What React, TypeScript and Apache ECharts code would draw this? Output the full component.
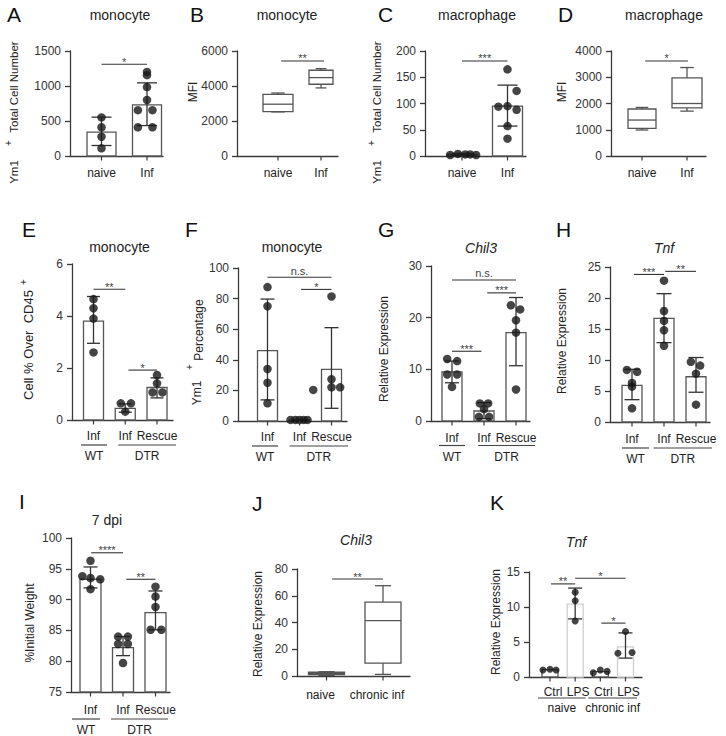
import React, { useEffect, useRef } from 'react';
import * as echarts from 'echarts';

const FONT = '"Liberation Sans", Arial, Helvetica, sans-serif';
const AXIS = '#3a3a3a';
const EDGE = '#555555';
const DOT = '#161616';

// ---------- A: monocyte Ym1+ total cell number ----------
const aCats = ['naive', 'Inf'];
const aMeans = [340, 730];
const aErr = [[0, 150, 555], [1, 435, 1045]];
const aDots = [[0, 551], [0, 410], [0, 275], [0, 109], [1, 1201], [1, 1155], [1, 985], [1, 800], [0.8, 655], [1.12, 655], [0.8, 410], [1.12, 410]];
const aSig = [[0, 1, 1310]];
const aSigText = ['*'];

// ---------- B: monocyte MFI ----------
const bCats = ['naive', 'Inf'];
const bBoxes = [[0, 2520, 2540, 2960, 3520, 3600], [1, 3890, 4100, 4480, 4900, 4990]];
const bSig = [[0.07, 1.07, 5430]];
const bSigText = ['**'];

// ---------- C: macrophage Ym1+ total cell number ----------
const cCats = ['naive', 'Inf'];
const cMeans = [3, 95];
const cErr = [[0, 1, 5], [1, 57, 135]];
const cDots = [[-0.26, 2], [-0.09, 4], [0.07, 3], [0.18, 3], [0.31, 2], [1, 165], [1.2, 124], [0.8, 94], [1, 95], [1.2, 88], [1, 57], [1, 33]];
const cSig = [[0, 1, 181]];
const cSigText = ['***'];

// ---------- D: macrophage MFI ----------
const dCats = ['naive', 'Inf'];
const dBoxes = [[0, 990, 1050, 1370, 1790, 1850], [1, 1710, 1835, 2000, 2975, 3370]];
const dSig = [[0.07, 1.02, 3620]];
const dSigText = ['*'];

// ---------- E: monocyte cell % over CD45+ ----------
const eCats = ['Inf', 'Inf', 'Rescue'];
const eGroups = [[0, 0], [1, 2]];
const eGroupText = ['WT', 'DTR'];
const eMeans = [3.8, 0.45, 1.25];
const eErr = [[0, 2.95, 4.75], [1, 0.3, 0.62], [2, 0.85, 1.62]];
const eDots = [[0, 4.65], [0, 4.3], [0, 3.9], [0, 2.6], [0.86, 0.64], [1.18, 0.64], [1, 0.32], [2, 1.73], [2, 1.41], [1.86, 1.06], [2.17, 1.06]];
const eSig = [[0, 1, 5.03], [1.1, 2, 1.92]];
const eSigText = ['**', '*'];

// ---------- F: monocyte Ym1+ percentage ----------
const fCats = ['Inf', 'Inf', 'Rescue'];
const fGroups = [[0, 0], [1, 2]];
const fGroupText = ['WT', 'DTR'];
const fMeans = [46, 0.7, 33.8];
const fErr = [[0, 13.8, 79.7], [2, 8.3, 61]];
const fDots = [[0, 87.5], [0, 75], [0, 34], [0, 25], [0, 11.6], [0.72, 0.7], [0.87, 0.7], [1, 0.7], [1.13, 0.7], [1.25, 0.7], [2, 81.4], [2, 27.3], [1.43, 20.3], [2, 22], [2.27, 22]];
const fSig = [[0, 2, 94], [1.05, 2, 86]];
const fSigText = ['n.s.', '*'];

// ---------- G: Chil3 ----------
const gCats = ['Inf', 'Inf', 'Rescue'];
const gGroups = [[0, 0], [1, 2]];
const gGroupText = ['WT', 'DTR'];
const gMeans = [9.5, 1.94, 17.1];
const gErr = [[0, 7.4, 11.6], [1, 0.45, 3.55], [2, 10.7, 23.9]];
const gDots = [[-0.15, 12], [0.16, 11.6], [-0.15, 9], [0.16, 9], [0, 6.6], [0.87, 3.4], [1.13, 3.4], [1, 2.3], [0.84, 0.8], [1.16, 0.8], [1.84, 22.4], [2.13, 21.6], [2, 19.5], [2, 17.1], [2, 6.1]];
const gSig = [[0, 2, 27.3], [1.1, 2, 24.8], [0, 0.92, 13.5]];
const gSigText = ['n.s.', '***', '***'];

// ---------- H: Tnf ----------
const hCats = ['Inf', 'Inf', 'Rescue'];
const hGroups = [[0, 0], [1, 2]];
const hGroupText = ['WT', 'DTR'];
const hMeans = [5.9, 16.7, 7.3];
const hErr = [[0, 3.6, 8.5], [1, 12.8, 20.7], [2, 4.8, 10.4]];
const hDots = [[-0.16, 8.4], [0.16, 8.1], [0, 6.3], [0, 5.7], [0, 2.2], [1, 22.8], [1, 17.9], [1, 16.3], [1, 14.8], [1, 12.3], [1.84, 9.7], [2.13, 9.1], [2, 7.8], [2, 2.8]];
const hSig = [[0.06, 1, 23.8], [1.04, 2, 24.3]];
const hSigText = ['***', '**'];

// ---------- I: 7 dpi weight ----------
const iCats = ['Inf', 'Inf', 'Rescue'];
const iGroups = [[0, 0], [1, 2]];
const iGroupText = ['WT', 'DTR'];
const iMeans = [93.3, 82.2, 87.9];
const iErr = [[0, 91.9, 95.3], [1, 80.9, 84], [2, 85.1, 91.4]];
const iDots = [[0, 96.3], [-0.25, 93.8], [0, 93.5], [0.3, 93.3], [0, 91.7], [0.85, 84], [1.15, 84], [0.85, 82.8], [1.15, 82.8], [1, 79.7], [2, 92.1], [2, 90.5], [2, 88.8], [1.85, 85.1], [2.18, 85.1]];
const iSig = [[0.02, 1, 97.6], [1.1, 2, 93.3]];
const iSigText = ['****', '**'];

// ---------- J: Chil3 chronic ----------
const jCats = ['naive', 'chronic inf'];
const jBoxes = [[0, 0.5, 1, 2, 2.8, 3.2], [1, 1.2, 9.7, 41.4, 55.3, 67.5]];
const jSig = [[0.1, 1, 72.5]];
const jSigText = ['**'];

// ---------- K: Tnf LPS ----------
const kCats = ['Ctrl', 'LPS', 'Ctrl', 'LPS'];
const kGroups = [[0, 1], [2, 3]];
const kGroupText = ['naive', 'chronic inf'];
const kMeans = [1.05, 10.4, 0.78, 4.3];
const kErr = [[1, 8.3, 12.7], [3, 2.7, 6.3]];
const kDots = [[-0.28, 1.0], [0, 1.1], [0.24, 1.0], [1, 12.1], [1, 10.9], [1, 8.0], [1.72, 0.6], [2, 1.0], [2.27, 0.8], [3, 6.5], [2.7, 3.4], [3.26, 3.5]];
const kSig = [[0.04, 1, 13.3], [1, 3, 14.1], [2.04, 3, 7.7]];
const kSigText = ['**', '*', '*'];

// ---------- layout ----------
const panels: any[] = [
  { cats: aCats, means: aMeans, err: aErr, dots: aDots, sig: aSig, sigText: aSigText, yMin: 0, yMax: 1500, yStep: 500,
    axisL: 70, axisR: 163, c0: 101.5, c1: 147, top: 51, bottom: 156, barW: 29, capW: 20, labelDy: 17 },
  { cats: bCats, boxes: bBoxes, boxW: [30, 24], sig: bSig, sigText: bSigText, yMin: 0, yMax: 6000, yStep: 2000,
    axisL: 237, axisR: 338, c0: 278, c1: 321, top: 51, bottom: 156, labelDy: 17 },
  { cats: cCats, means: cMeans, err: cErr, dots: cDots, sig: cSig, sigText: cSigText, yMin: 0, yMax: 200, yStep: 50,
    axisL: 425, axisR: 526, c0: 462, c1: 507.5, top: 51, bottom: 156, barW: 30, capW: 20, labelDy: 17 },
  { cats: dCats, boxes: dBoxes, boxW: [28, 30], sig: dSig, sigText: dSigText, yMin: 0, yMax: 4000, yStep: 1000,
    axisL: 611, axisR: 706, c0: 642, c1: 687, top: 51, bottom: 156, labelDy: 17 },
  { cats: eCats, groups: eGroups, groupText: eGroupText, groupPad: [[12.5, 13.5], [7, 19]], means: eMeans, err: eErr, dots: eDots, sig: eSig, sigText: eSigText,
    yMin: 0, yMax: 6, yStep: 2, axisL: 72, axisR: 173, c0: 93.5, c1: 157, top: 264, bottom: 420, barW: 20, capW: 13, labelDy: 15.5, lineDy: 25, groupDy: 35.5 },
  { cats: fCats, groups: fGroups, groupText: fGroupText, groupPad: [[15.5, 10.5], [10, 16.5]], means: fMeans, err: fErr, dots: fDots, sig: fSig, sigText: fSigText,
    yMin: 0, yMax: 100, yStep: 20, axisL: 238, axisR: 347, c0: 267.5, c1: 331.5, top: 268, bottom: 421, barW: 20, capW: 14, labelDy: 15.7, lineDy: 25, groupDy: 35.7 },
  { cats: gCats, groups: gGroups, groupText: gGroupText, groupPad: [[13, 13], [6, 19]], means: gMeans, err: gErr, dots: gDots, sig: gSig, sigText: gSigText,
    yMin: 0, yMax: 30, yStep: 10, axisL: 431, axisR: 530, c0: 452, c1: 516, top: 266, bottom: 421, barW: 20, capW: 14, labelDy: 17, lineDy: 24.5, groupDy: 36 },
  { cats: hCats, groups: hGroups, groupText: hGroupText, groupPad: [[10, 17], [10.5, 16]], means: hMeans, err: hErr, dots: hDots, sig: hSig, sigText: hSigText,
    yMin: 0, yMax: 25, yStep: 5, axisL: 610, axisR: 710, c0: 632, c1: 696, top: 267, bottom: 422, barW: 20, capW: 15, labelDy: 17, lineDy: 26, groupDy: 37 },
  { cats: iCats, groups: iGroups, groupText: iGroupText, groupPad: [[18.5, 9.5], [12, 12.5]], means: iMeans, err: iErr, dots: iDots, sig: iSig, sigText: iSigText,
    yMin: 75, yMax: 100, yStep: 5, axisL: 71, axisR: 170, c0: 90.5, c1: 155.5, top: 538, bottom: 692, barW: 21, capW: 14, labelDy: 18, lineDy: 27, groupDy: 38 },
  { cats: jCats, boxes: jBoxes, boxW: [36, 36], sig: jSig, sigText: jSigText, yMin: 0, yMax: 80, yStep: 20,
    axisL: 297, axisR: 410, c0: 326.5, c1: 383, top: 569, bottom: 676, labelDy: 19, labelDx: -6 },
  { cats: kCats, groups: kGroups, groupText: kGroupText, groupPad: [[12, 10.5], [12, 11.5]], means: kMeans, barEdge: [EDGE, '#cfcfcf', EDGE, '#cfcfcf'], err: kErr, dots: kDots, sig: kSig, sigText: kSigText,
    yMin: 0, yMax: 15, yStep: 5, axisL: 529, axisR: 642, c0: 550, c1: 625.5, top: 572, bottom: 677, barW: 16, capW: 14, dotSize: 7, labelDy: 15, labelDx: 3, lineDy: 21, groupDy: 31 },
];

const letters: [string, number, number][] = [
  ['A', 7, 14], ['B', 190, 14], ['C', 378, 14], ['D', 558, 14],
  ['E', 22, 229], ['F', 185, 229], ['G', 378, 229], ['H', 556, 229],
  ['I', 19, 501], ['J', 252, 503], ['K', 490, 502],
];
const titles: [string, number, number, boolean][] = [
  ['monocyte', 120, 15, false], ['monocyte', 287, 15, false], ['macrophage', 477, 15, false], ['macrophage', 664, 15, false],
  ['monocyte', 119.5, 247, false], ['monocyte', 292, 247, false], ['Chil3', 481, 248, true], ['Tnf', 664, 248, true],
  ['7 dpi', 107, 520, false], ['Chil3', 356, 540, true], ['Tnf', 576, 542, true],
];
// rotated axis names: [text, centerX, centerY, fontSize]
const yNames: [string, number, number, number][] = [
  ['Total Cell Number', 14, 87, 11.5], ['Ym1', 14, 172, 11.5], ['+', 8, 143, 10],
  ['MFI', 193, 92, 12],
  ['Total Cell Number', 377, 87, 11.5], ['Ym1', 377, 172, 11.5], ['+', 371, 143, 10],
  ['MFI', 562, 92, 12],
  ['Cell % Over  CD45', 28, 345, 13], ['+', 23, 282, 10],
  ['Percentage', 199, 330, 12], ['Ym1', 197, 393, 12], ['+', 189, 367, 10],
  ['Relative Expression', 384, 349, 12],
  ['Relative Expression', 562, 341, 12],
  ['%Initial Weight', 30, 623, 12],
  ['Relative Expression', 258, 624, 12],
  ['Relative Expression', 496, 622, 12],
];

function buildOption() {
  const grid: any[] = [];
  const xAxis: any[] = [];
  const yAxis: any[] = [];
  const series: any[] = [];
  const graphic: any[] = [];
  const axisLine = { color: AXIS, width: 1.3 };

  panels.forEach((p, i) => {
    const n = p.cats.length;
    const unit = (p.c1 - p.c0) / (n - 1);
    const xMin = (p.axisL - p.c0) / unit;
    const xMax = (p.axisR - p.c0) / unit;
    grid.push({ left: p.axisL, top: p.top, width: p.axisR - p.axisL, height: p.bottom - p.top, containLabel: false, outerBoundsMode: 'none' });
    xAxis.push({
      gridIndex: i, type: 'value', min: xMin, max: xMax,
      axisLine: { show: true, onZero: false, lineStyle: axisLine },
      axisTick: { show: false }, axisLabel: { show: false }, splitLine: { show: false },
    });
    yAxis.push({
      gridIndex: i, type: 'value', min: p.yMin, max: p.yMax, interval: p.yStep,
      axisLine: { show: true, onZero: false, lineStyle: axisLine },
      axisTick: { show: true, length: 5, lineStyle: axisLine },
      axisLabel: { fontSize: 12, color: '#333', margin: 9, fontFamily: FONT, formatter: (v: number) => String(v) },
      splitLine: { show: false },
    });
    const common = { xAxisIndex: i, yAxisIndex: i, clip: false, silent: true };

    if (p.means) {
      const bw = p.barW;
      series.push({
        ...common, type: 'custom', z: 2,
        data: p.means.map((m: number, k: number) => [k, m]),
        encode: { x: 0, y: 1 },
        renderItem: (params: any, api: any) => {
          const k = api.value(0);
          const top = api.coord([k, api.value(1)]);
          const base = api.coord([k, p.yMin]);
          const stroke = p.barEdge ? p.barEdge[params.dataIndex] : EDGE;
          return { type: 'rect', shape: { x: top[0] - bw / 2, y: top[1], width: bw, height: base[1] - top[1] },
            style: { fill: '#ffffff', stroke, lineWidth: 1.3 } };
        },
      });
    }
    if (p.err) {
      const cw = p.capW / 2;
      series.push({
        ...common, type: 'custom', z: 3,
        data: p.err,
        encode: { x: 0, y: [1, 2] },
        renderItem: (params: any, api: any) => {
          const k = api.value(0);
          const lo = api.coord([k, api.value(1)]);
          const hi = api.coord([k, api.value(2)]);
          const st = { stroke: '#333', lineWidth: 1.3 };
          return { type: 'group', children: [
            { type: 'line', shape: { x1: lo[0], y1: lo[1], x2: hi[0], y2: hi[1] }, style: st },
            { type: 'line', shape: { x1: lo[0] - cw, y1: lo[1], x2: lo[0] + cw, y2: lo[1] }, style: st },
            { type: 'line', shape: { x1: hi[0] - cw, y1: hi[1], x2: hi[0] + cw, y2: hi[1] }, style: st },
          ] };
        },
      });
    }
    if (p.dots) {
      series.push({
        ...common, type: 'scatter', z: 4,
        data: p.dots, symbol: 'circle', symbolSize: p.dotSize || 8.5,
        itemStyle: { color: DOT },
      });
    }
    if (p.boxes) {
      series.push({
        ...common, type: 'custom', z: 2,
        data: p.boxes,
        encode: { x: 0, y: [1, 2, 3, 4, 5] },
        renderItem: (params: any, api: any) => {
          const k = api.value(0);
          const w = p.boxW[params.dataIndex];
          const mn = api.coord([k, api.value(1)]);
          const q1 = api.coord([k, api.value(2)]);
          const md = api.coord([k, api.value(3)]);
          const q3 = api.coord([k, api.value(4)]);
          const mx = api.coord([k, api.value(5)]);
          const cx = mn[0];
          const st = { stroke: EDGE, lineWidth: 1.3 };
          const cap = w * 0.45;
          return { type: 'group', children: [
            { type: 'line', shape: { x1: cx, y1: mx[1], x2: cx, y2: q3[1] }, style: st },
            { type: 'line', shape: { x1: cx, y1: q1[1], x2: cx, y2: mn[1] }, style: st },
            { type: 'line', shape: { x1: cx - cap / 2, y1: mx[1], x2: cx + cap / 2, y2: mx[1] }, style: st },
            { type: 'line', shape: { x1: cx - cap / 2, y1: mn[1], x2: cx + cap / 2, y2: mn[1] }, style: st },
            { type: 'rect', shape: { x: cx - w / 2, y: q3[1], width: w, height: q1[1] - q3[1] }, style: { fill: '#fff', stroke: EDGE, lineWidth: 1.3 } },
            { type: 'line', shape: { x1: cx - w / 2, y1: md[1], x2: cx + w / 2, y2: md[1] }, style: st },
          ] };
        },
      });
    }
    // significance brackets
    series.push({
      ...common, type: 'custom', z: 5,
      data: p.sig,
      encode: { x: [0, 1], y: 2 },
      renderItem: (params: any, api: any) => {
        const a = api.coord([api.value(0), api.value(2)]);
        const b = api.coord([api.value(1), api.value(2)]);
        const txt = p.sigText[params.dataIndex];
        const isNs = txt === 'n.s.';
        return { type: 'group', children: [
          { type: 'line', shape: { x1: a[0], y1: a[1], x2: b[0], y2: b[1] }, style: { stroke: '#333', lineWidth: 1.1 } },
          { type: 'text', x: (a[0] + b[0]) / 2, y: a[1] + (isNs ? -1 : 3),
            style: { text: txt, align: 'center', verticalAlign: 'bottom', fill: '#444', fontSize: 11, fontFamily: FONT } },
        ] };
      },
    });
    // category ticks and labels
    series.push({
      ...common, type: 'custom', z: 5,
      data: p.cats.map((_: string, k: number) => [k]),
      encode: { x: 0 },
      renderItem: (params: any, api: any) => {
        const k = api.value(0);
        const c = api.coord([k, p.yMin]);
        return { type: 'group', children: [
          { type: 'line', shape: { x1: c[0], y1: c[1], x2: c[0], y2: c[1] + 4.5 }, style: { stroke: AXIS, lineWidth: 1.2 } },
          { type: 'text', x: c[0] + (p.labelDx || 0), y: c[1] + p.labelDy,
            style: { text: p.cats[params.dataIndex], align: 'center', verticalAlign: 'middle', fill: '#222', fontSize: 12, fontFamily: FONT } },
        ] };
      },
    });
    if (p.groups) {
      series.push({
        ...common, type: 'custom', z: 5,
        data: p.groups,
        encode: { x: [0, 1] },
        renderItem: (params: any, api: any) => {
          const a = api.coord([api.value(0), p.yMin]);
          const b = api.coord([api.value(1), p.yMin]);
          const pad = p.groupPad[params.dataIndex];
          const x1 = a[0] - pad[0];
          const x2 = b[0] + pad[1];
          const y = a[1] + p.lineDy;
          return { type: 'group', children: [
            { type: 'line', shape: { x1, y1: y, x2, y2: y }, style: { stroke: '#444', lineWidth: 1.2 } },
            { type: 'text', x: (x1 + x2) / 2, y: a[1] + p.groupDy,
              style: { text: p.groupText[params.dataIndex], align: 'center', verticalAlign: 'middle', fill: '#222', fontSize: 12, fontFamily: FONT } },
          ] };
        },
      });
    }
  });

  letters.forEach(([t, x, y]) => {
    graphic.push({ type: 'text', x, y, silent: true,
      style: { text: t, align: 'left', verticalAlign: 'middle', fill: '#111', fontSize: 21, fontFamily: FONT } });
  });
  titles.forEach(([t, x, y, it]) => {
    graphic.push({ type: 'text', x, y, silent: true,
      style: { text: t, align: 'center', verticalAlign: 'middle', fill: '#222', fontSize: 14, fontStyle: it ? 'italic' : 'normal', fontFamily: FONT } });
  });
  yNames.forEach(([t, x, y, fs]) => {
    graphic.push({ type: 'text', x, y, rotation: Math.PI / 2, silent: true,
      style: { text: t, align: 'center', verticalAlign: 'middle', fill: '#222', fontSize: fs, fontFamily: FONT } });
  });

  return {
    animation: false,
    backgroundColor: '#ffffff',
    textStyle: { fontFamily: FONT },
    grid, xAxis, yAxis, series, graphic,
  };
}

export default function App() {
  const ref = useRef<HTMLDivElement>(null);
  useEffect(() => {
    if (!ref.current) return;
    const chart = echarts.init(ref.current, null, { renderer: 'svg' });
    chart.setOption(buildOption() as any);
    return () => chart.dispose();
  }, []);
  return <div ref={ref} style={{ position: 'absolute', left: 0, top: 0, width: 726, height: 736 }} />;
}
